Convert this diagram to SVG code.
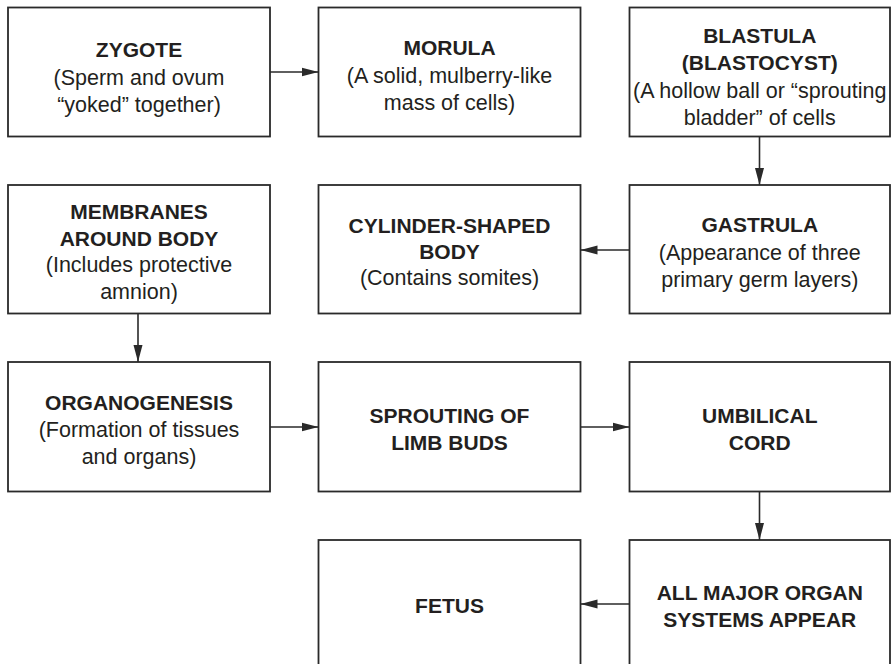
<svg xmlns="http://www.w3.org/2000/svg" width="893" height="664" viewBox="0 0 893 664">
<style>
rect.box{fill:#fff;stroke:#2a2a2a;stroke-width:1.8}
text{font-family:"Liberation Sans",Arial,Helvetica,sans-serif;fill:#231f20;text-anchor:middle}
.t{font-weight:bold;font-size:21px}
.s{font-size:21.5px}
.conn{stroke:#2a2a2a;stroke-width:1.6;fill:none;marker-end:url(#ah)}
</style>
<defs>
<marker id="ah" markerUnits="userSpaceOnUse" markerWidth="18" markerHeight="10" refX="17" refY="5" orient="auto">
<path d="M0,0.5 L17,5 L0,9.5 Z" fill="#2a2a2a"/>
</marker>
</defs>
<rect width="893" height="664" fill="#fff"/>
<g id="zygote"><rect class="box" x="8" y="7.5" width="262" height="129"/>
<text class="t" x="139" y="57">ZYGOTE</text>
<text class="s" x="139" y="85">(Sperm and ovum</text>
<text class="s" x="139" y="112">“yoked” together)</text></g>
<g id="morula"><rect class="box" x="318.5" y="7.5" width="262" height="129"/>
<text class="t" x="449.5" y="55">MORULA</text>
<text class="s" x="449.5" y="83">(A solid, mulberry-like</text>
<text class="s" x="449.5" y="110">mass of cells)</text></g>
<g id="blastula"><rect class="box" x="629.5" y="7.5" width="260.5" height="129"/>
<text class="t" x="759.75" y="42.5">BLASTULA</text>
<text class="t" x="759.75" y="70">(BLASTOCYST)</text>
<text class="s" x="759.75" y="98">(A hollow ball or “sprouting</text>
<text class="s" x="759.75" y="125">bladder” of cells</text></g>
<g id="membranes"><rect class="box" x="8" y="185" width="262" height="128.5"/>
<text class="t" x="139" y="218.5">MEMBRANES</text>
<text class="t" x="139" y="245.5">AROUND BODY</text>
<text class="s" x="139" y="272">(Includes protective</text>
<text class="s" x="139" y="298.5">amnion)</text></g>
<g id="cylinder"><rect class="box" x="318.5" y="185" width="262" height="128.5"/>
<text class="t" x="449.5" y="232.5">CYLINDER-SHAPED</text>
<text class="t" x="449.5" y="258.5">BODY</text>
<text class="s" x="449.5" y="285">(Contains somites)</text></g>
<g id="gastrula"><rect class="box" x="629.5" y="185" width="260.5" height="128.5"/>
<text class="t" x="759.75" y="232">GASTRULA</text>
<text class="s" x="759.75" y="259.5">(Appearance of three</text>
<text class="s" x="759.75" y="286.5">primary germ layers)</text></g>
<g id="organogenesis"><rect class="box" x="8" y="362" width="262" height="129.5"/>
<text class="t" x="139" y="410">ORGANOGENESIS</text>
<text class="s" x="139" y="437">(Formation of tissues</text>
<text class="s" x="139" y="463.5">and organs)</text></g>
<g id="limbbuds"><rect class="box" x="318.5" y="362" width="262" height="129.5"/>
<text class="t" x="449.5" y="422.5">SPROUTING OF</text>
<text class="t" x="449.5" y="449.5">LIMB BUDS</text></g>
<g id="umbilical"><rect class="box" x="629.5" y="362" width="260.5" height="129.5"/>
<text class="t" x="759.75" y="422.5">UMBILICAL</text>
<text class="t" x="759.75" y="449.5">CORD</text></g>
<g id="fetus"><rect class="box" x="318.5" y="540" width="262" height="130"/>
<text class="t" x="449.5" y="612.5">FETUS</text></g>
<g id="organsystems"><rect class="box" x="629.5" y="540" width="260.5" height="130"/>
<text class="t" x="759.75" y="600">ALL MAJOR ORGAN</text>
<text class="t" x="759.75" y="627">SYSTEMS APPEAR</text></g>
<g id="connectors">
<path class="conn" d="M270,72 H318.5"/>
<path class="conn" d="M759.5,136.5 V185"/>
<path class="conn" d="M629.5,250 H580.5"/>
<path class="conn" d="M138,313.5 V362"/>
<path class="conn" d="M270,427 H318.5"/>
<path class="conn" d="M580.5,427 H629.5"/>
<path class="conn" d="M759.5,491.5 V540"/>
<path class="conn" d="M629.5,604 H580.5"/>
</g>
</svg>
